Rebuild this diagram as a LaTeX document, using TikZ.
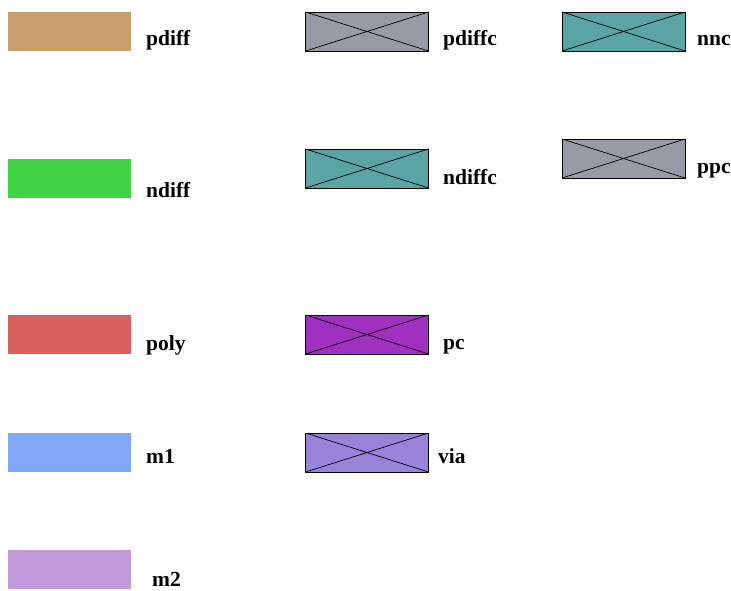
\documentclass[tikz,border=0pt]{standalone}
\usepackage{fontspec}
\setmainfont{Liberation Serif}
\usepackage{xcolor}
\usepackage{tikz}
\usetikzlibrary{positioning, calc}

\definecolor{pdiffcol}{HTML}{C8A070}
\definecolor{ndiffcol}{HTML}{40D444}
\definecolor{polycol}{HTML}{DA5F5F}
\definecolor{monecol}{HTML}{80A8F8}
\definecolor{mtwocol}{HTML}{C09ADC}
\definecolor{graycol}{HTML}{989AA8}
\definecolor{tealcol}{HTML}{5AA4A4}
\definecolor{pccol}{HTML}{A030C0}
\definecolor{viacol}{HTML}{9A82DA}

\begin{document}
\begin{tikzpicture}[
    x=1pt, y=-1pt,
    layer/.style={rectangle, minimum width=123pt, minimum height=39pt, inner sep=0pt, outer sep=0pt},
    contact/.style={layer, draw, line width=0.9pt,
        path picture={\draw[line width=0.7pt] (path picture bounding box.north west) -- (path picture bounding box.south east)
                           (path picture bounding box.south west) -- (path picture bounding box.north east);}},
    lbl/.style={anchor=base west, inner sep=0pt, font=\fontsize{21.5}{23}\selectfont\bfseries}
]
\useasboundingbox (0,0) rectangle (731,591);

% Plain layers
\node[layer, fill=pdiffcol] (pdiff) at (69.5,31.5) {};
\node[layer, fill=ndiffcol] (ndiff) at (69.5,178.5) {};
\node[layer, fill=polycol] (poly) at (69.5,334.5) {};
\node[layer, fill=monecol] (mone) at (69.5,452.5) {};
\node[layer, fill=mtwocol] (mtwo) at (69.5,569.5) {};

% Contacts
\node[contact, fill=graycol] (pdiffc) at (367,31.5) {};
\node[contact, fill=tealcol] (ndiffc) at (367,168.5) {};
\node[contact, fill=pccol] (pc) at (367,334.5) {};
\node[contact, fill=viacol] (via) at (367,452.5) {};
\node[contact, fill=tealcol] (nnc) at (623.5,31.5) {};
\node[contact, fill=graycol] (ppc) at (623.5,158.5) {};

% Labels
\node[lbl] (pdifflbl) at (146,46) {pdiff};
\node[lbl] (ndifflbl) at (146,197) {ndiff};
\node[lbl] (polylbl) at (146,350) {poly};
\node[lbl] (monelbl) at (146,463) {m1};
\node[lbl] (mtwolbl) at (152,586) {m2};
\node[lbl] (pdiffclbl) at (443,46) {pdiffc};
\node[lbl] (ndiffclbl) at (443,185) {ndiffc};
\node[lbl] (pclbl) at (443,349) {pc};
\node[lbl] (vialbl) at (438,463) {via};
\node[lbl] (nnclbl) at (697,46) {nnc};
\node[lbl] (ppclbl) at (697,174) {ppc};

\end{tikzpicture}
\end{document}
